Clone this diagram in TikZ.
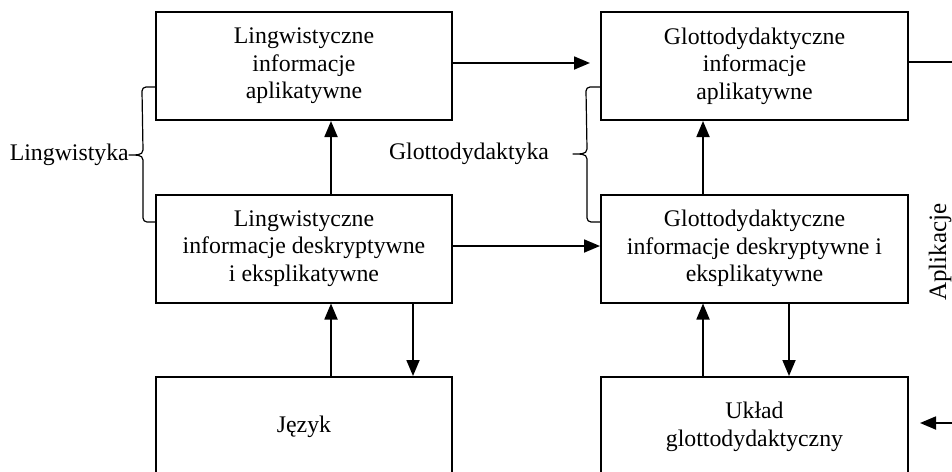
\documentclass[tikz,border=0pt]{standalone}
\usepackage{fontspec}
\setmainfont{Liberation Serif}
\usetikzlibrary{arrows.meta}
\begin{document}
\begin{tikzpicture}[x=1pt,y=-1pt,
  txt/.style={font=\fontsize{23.8}{27.5}\selectfont},
  box/.style={draw, line width=2pt, align=center, inner sep=0pt, txt},
  lbox/.style={box, minimum width=296pt, minimum height=108pt},
  rbox/.style={box, minimum width=307pt, minimum height=108pt},
  lowbox/.style={minimum height=100pt},
  conn/.style={line width=1.8pt},
  arr/.style={conn, -{Triangle[length=16pt,width=13pt]}},
  bracket/.style={line width=1.2pt, line join=round}]
\path[use as bounding box, clip] (0,0) rectangle (952,471);

% boxes
\node[lbox] (A) at (304,66) {Lingwistyczne\\informacje\\aplikatywne};
\node[lbox] (B) at (304,248.5) {Lingwistyczne\\informacje deskryptywne\\i eksplikatywne};
\node[lbox, lowbox] (E) at (304,427) {Język};
\node[rbox] (C) at (754.5,66) {Glottodydaktyczne\\informacje\\aplikatywne};
\node[rbox] (D) at (754.5,248.5) {Glottodydaktyczne\\informacje deskryptywne i\\eksplikatywne};
\node[rbox, lowbox] (F) at (754.5,427) {Układ\\glottodydaktyczny};

% side labels
\node[txt, anchor=east, inner sep=0pt] (ling) at (129,155) {Lingwistyka};
\node[txt, inner sep=0pt] (glot) at (469,154) {Glottodydaktyka};
\node[txt, rotate=90, inner sep=0pt, font=\fontsize{25}{28}\selectfont] (apl) at (940,252) {Aplikacje};

% helper coordinates for connector columns and rows
\coordinate (xl1) at (331,0);
\coordinate (xl2) at (413,0);
\coordinate (xr1) at (703,0);
\coordinate (xr2) at (789,0);
\coordinate (yAC) at (0,63);
\coordinate (yBD) at (0,246);
\coordinate (outC) at (952,62);
\coordinate (inF) at (952,423);

% vertical connectors
\draw[arr] (B.north -| xl1) -- (A.south -| xl1);
\draw[arr] (E.north -| xl1) -- (B.south -| xl1);
\draw[arr] (B.south -| xl2) -- (E.north -| xl2);
\draw[arr] (D.north -| xr1) -- (C.south -| xr1);
\draw[arr] (F.north -| xr1) -- (D.south -| xr1);
\draw[arr] (D.south -| xr2) -- (F.north -| xr2);

% horizontal connectors
\draw[arr] (A.east |- yAC) -- ([xshift=-10pt]C.west |- yAC);
\draw[arr] (B.east |- yBD) -- (D.west |- yBD);
\draw[conn] (C.east |- outC) -- (outC);
\draw[arr] (inF) -- ([xshift=11pt]F.east |- inF);

% brace of the linguistic column
\draw[bracket] (A.west |- 0,87) -- ++(-9,0) to[out=180,in=90] ++(-4,4)
  -- (143,150) to[out=270,in=0] (ling.east) to[out=0,in=90] (143,160)
  -- (143,218) to[out=270,in=180] ++(4,4) -- (B.west |- 0,222);

% brace of the glottodidactic column
\draw[bracket] (C.west |- 0,87) -- ++(-10,0) to[out=180,in=90] ++(-4,4)
  -- (587,149) to[out=270,in=0] (573,154) to[out=0,in=90] (587,159)
  -- (587,218) to[out=270,in=180] ++(4,4) -- (D.west |- 0,222);
\end{tikzpicture}
\end{document}
